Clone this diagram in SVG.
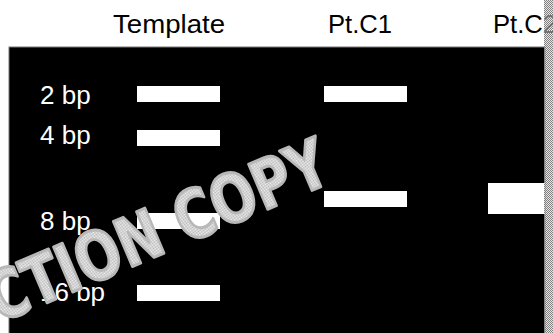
<svg xmlns="http://www.w3.org/2000/svg" width="553" height="333" viewBox="0 0 553 333">
<defs>
<pattern id="dither" width="2" height="2" patternUnits="userSpaceOnUse">
<rect width="2" height="2" fill="#f4f4f4"/>
<rect width="1" height="1" fill="#b4b4b4"/>
<rect x="1" y="1" width="1" height="1" fill="#b4b4b4"/>
</pattern>
<pattern id="strip" width="2" height="2" patternUnits="userSpaceOnUse">
<rect width="1" height="1" fill="#808080"/>
<rect x="1" y="1" width="1" height="1" fill="#808080"/>
</pattern>
</defs>
<style>
.hdr{font-family:"Liberation Sans",Arial,sans-serif;font-size:26.5px;fill:#000}
.lbl{font-family:"Liberation Sans",Arial,sans-serif;font-size:26px;fill:#fff}
.band{fill:#fff}
.wm{font-family:"DejaVu Sans",sans-serif;font-weight:bold;font-size:67px;fill:url(#dither);stroke:#b8b8b8;stroke-width:3;stroke-linejoin:round}
</style>
<rect x="0" y="0" width="553" height="333" fill="#fff"/>
<g id="gel">
<rect x="9" y="47" width="536" height="287" fill="#000" stroke="#777" stroke-width="1"/>
</g>
<g id="headers">
<text class="hdr" x="113" y="33" textLength="112" lengthAdjust="spacingAndGlyphs">Template</text>
<text class="hdr" x="328" y="33" textLength="64" lengthAdjust="spacingAndGlyphs">Pt.C1</text>
<text class="hdr" x="493" y="33" textLength="64" lengthAdjust="spacingAndGlyphs">Pt.C2</text>
</g>
<g id="ladder">
<text class="lbl" x="40" y="104">2 bp</text>
<text class="lbl" x="40" y="144">4 bp</text>
<text class="lbl" x="40" y="230">8 bp</text>
<text class="lbl" x="40" y="301">16 bp</text>
</g>
<g id="bands">
<rect class="band" x="137" y="86" width="83" height="16"/>
<rect class="band" x="137" y="130" width="83" height="16"/>
<rect class="band" x="137" y="213" width="83" height="16"/>
<rect class="band" x="137" y="285" width="83" height="16"/>
<rect class="band" x="324" y="86" width="83" height="16"/>
<rect class="band" x="324" y="191" width="83" height="16"/>
<rect class="band" x="488" y="183" width="57" height="31"/>
</g>
<g id="watermark">
<text class="wm" transform="translate(334,181) rotate(-23)" text-anchor="end" textLength="364" lengthAdjust="spacingAndGlyphs">CTION COPY</text>
</g>
<rect x="544" y="0" width="9" height="333" fill="#d0d0d0" fill-opacity="0.5"/>
<rect x="544" y="0" width="9" height="333" fill="url(#strip)"/>
</svg>
